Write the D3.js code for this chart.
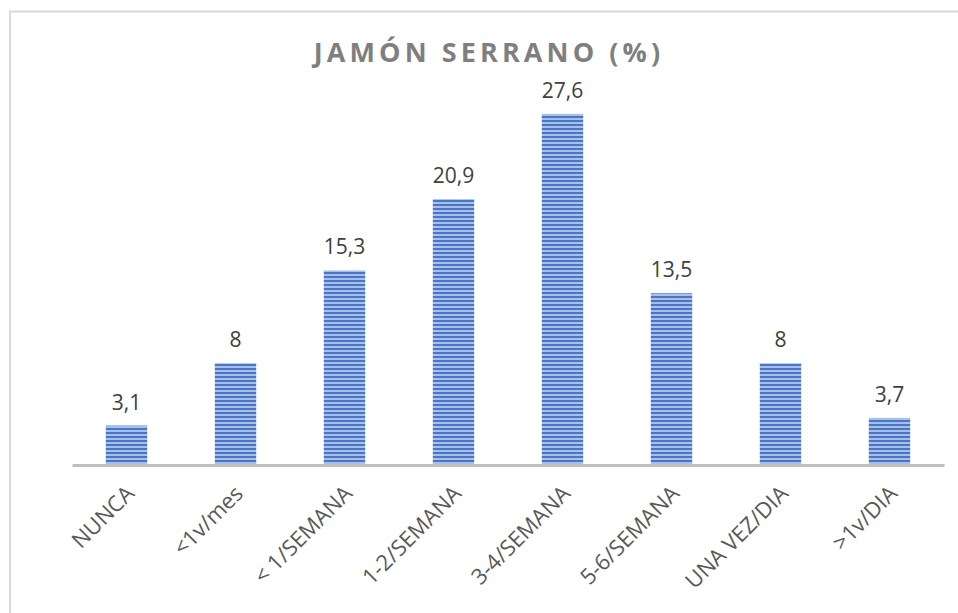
<!DOCTYPE html>
<html><head><meta charset="utf-8">
<script src="https://cdn.jsdelivr.net/npm/d3@7"></script>
<style>body{margin:0;background:#fff}svg{display:block}</style>
</head><body>
<script>
const categories = ["NUNCA","<1v/mes","< 1/SEMANA","1-2/SEMANA","3-4/SEMANA","5-6/SEMANA","UNA VEZ/DIA",">1v/DIA"];
const values = [3.1, 8, 15.3, 20.9, 27.6, 13.5, 8, 3.7];
const valueLabels = ["3,1","8","15,3","20,9","27,6","13,5","8","3,7"];
const title = "JAMÓN SERRANO (%)";

const W = 958, H = 613;
const svg = d3.select("body").append("svg").attr("width", W).attr("height", H);
const defs = svg.append("defs");
const pat = defs.append("pattern").attr("id","stripes").attr("patternUnits","userSpaceOnUse")
  .attr("width",8).attr("height",4);
pat.append("rect").attr("width",8).attr("height",4).attr("fill","#a8bfe8");
pat.append("rect").attr("y",0).attr("width",8).attr("height",2).attr("fill","#4a76c8");

// border
svg.append("path").attr("d", `M10,${H} L10,11.5 L${W},11.5`).attr("fill","none").attr("stroke","#d9d9d9").attr("stroke-width",2);

const left = 72, right = 944, base = 465;
const x = d3.scaleBand().domain(categories).range([left, right]).paddingInner(0.62).paddingOuter(0.31);
const y = d3.scaleLinear().domain([0, 30]).range([base, base - 30*12.72]);

svg.append("text").attr("x", 489).attr("y", 62).attr("text-anchor","middle")
  .attr("font-family","Open Sans, sans-serif").attr("font-weight","bold").attr("font-size",27)
  .attr("letter-spacing",4.1).attr("fill","#7f7f7f").text(title);

const g = svg.append("g");
g.selectAll("rect.bar").data(values).join("rect").attr("class","bar")
  .attr("x",(d,i)=>x(categories[i])).attr("width",x.bandwidth())
  .attr("y",d=>y(d)).attr("height",d=>base-y(d)).attr("fill","url(#stripes)");

g.selectAll("text.val").data(values).join("text").attr("class","val")
  .attr("x",(d,i)=>x(categories[i])+x.bandwidth()/2).attr("y",d=>y(d)-16)
  .attr("text-anchor","middle").attr("font-family","Open Sans, sans-serif").attr("font-size",21)
  .attr("fill","#404040").text((d,i)=>valueLabels[i]);

const axis = d3.axisBottom(x).tickSize(0).tickPadding(0);
const ax = svg.append("g").attr("transform",`translate(0,${base})`).call(axis);
ax.select(".domain").attr("stroke","#bfbfbf").attr("stroke-width",3);
ax.selectAll(".tick text").attr("font-family","Open Sans, sans-serif").attr("font-size",22)
  .attr("fill","#595959").attr("text-anchor","end").attr("dy",0)
  .attr("transform","translate(9,30) rotate(-45)").attr("y",0).attr("x",0);
</script>
</body></html>
